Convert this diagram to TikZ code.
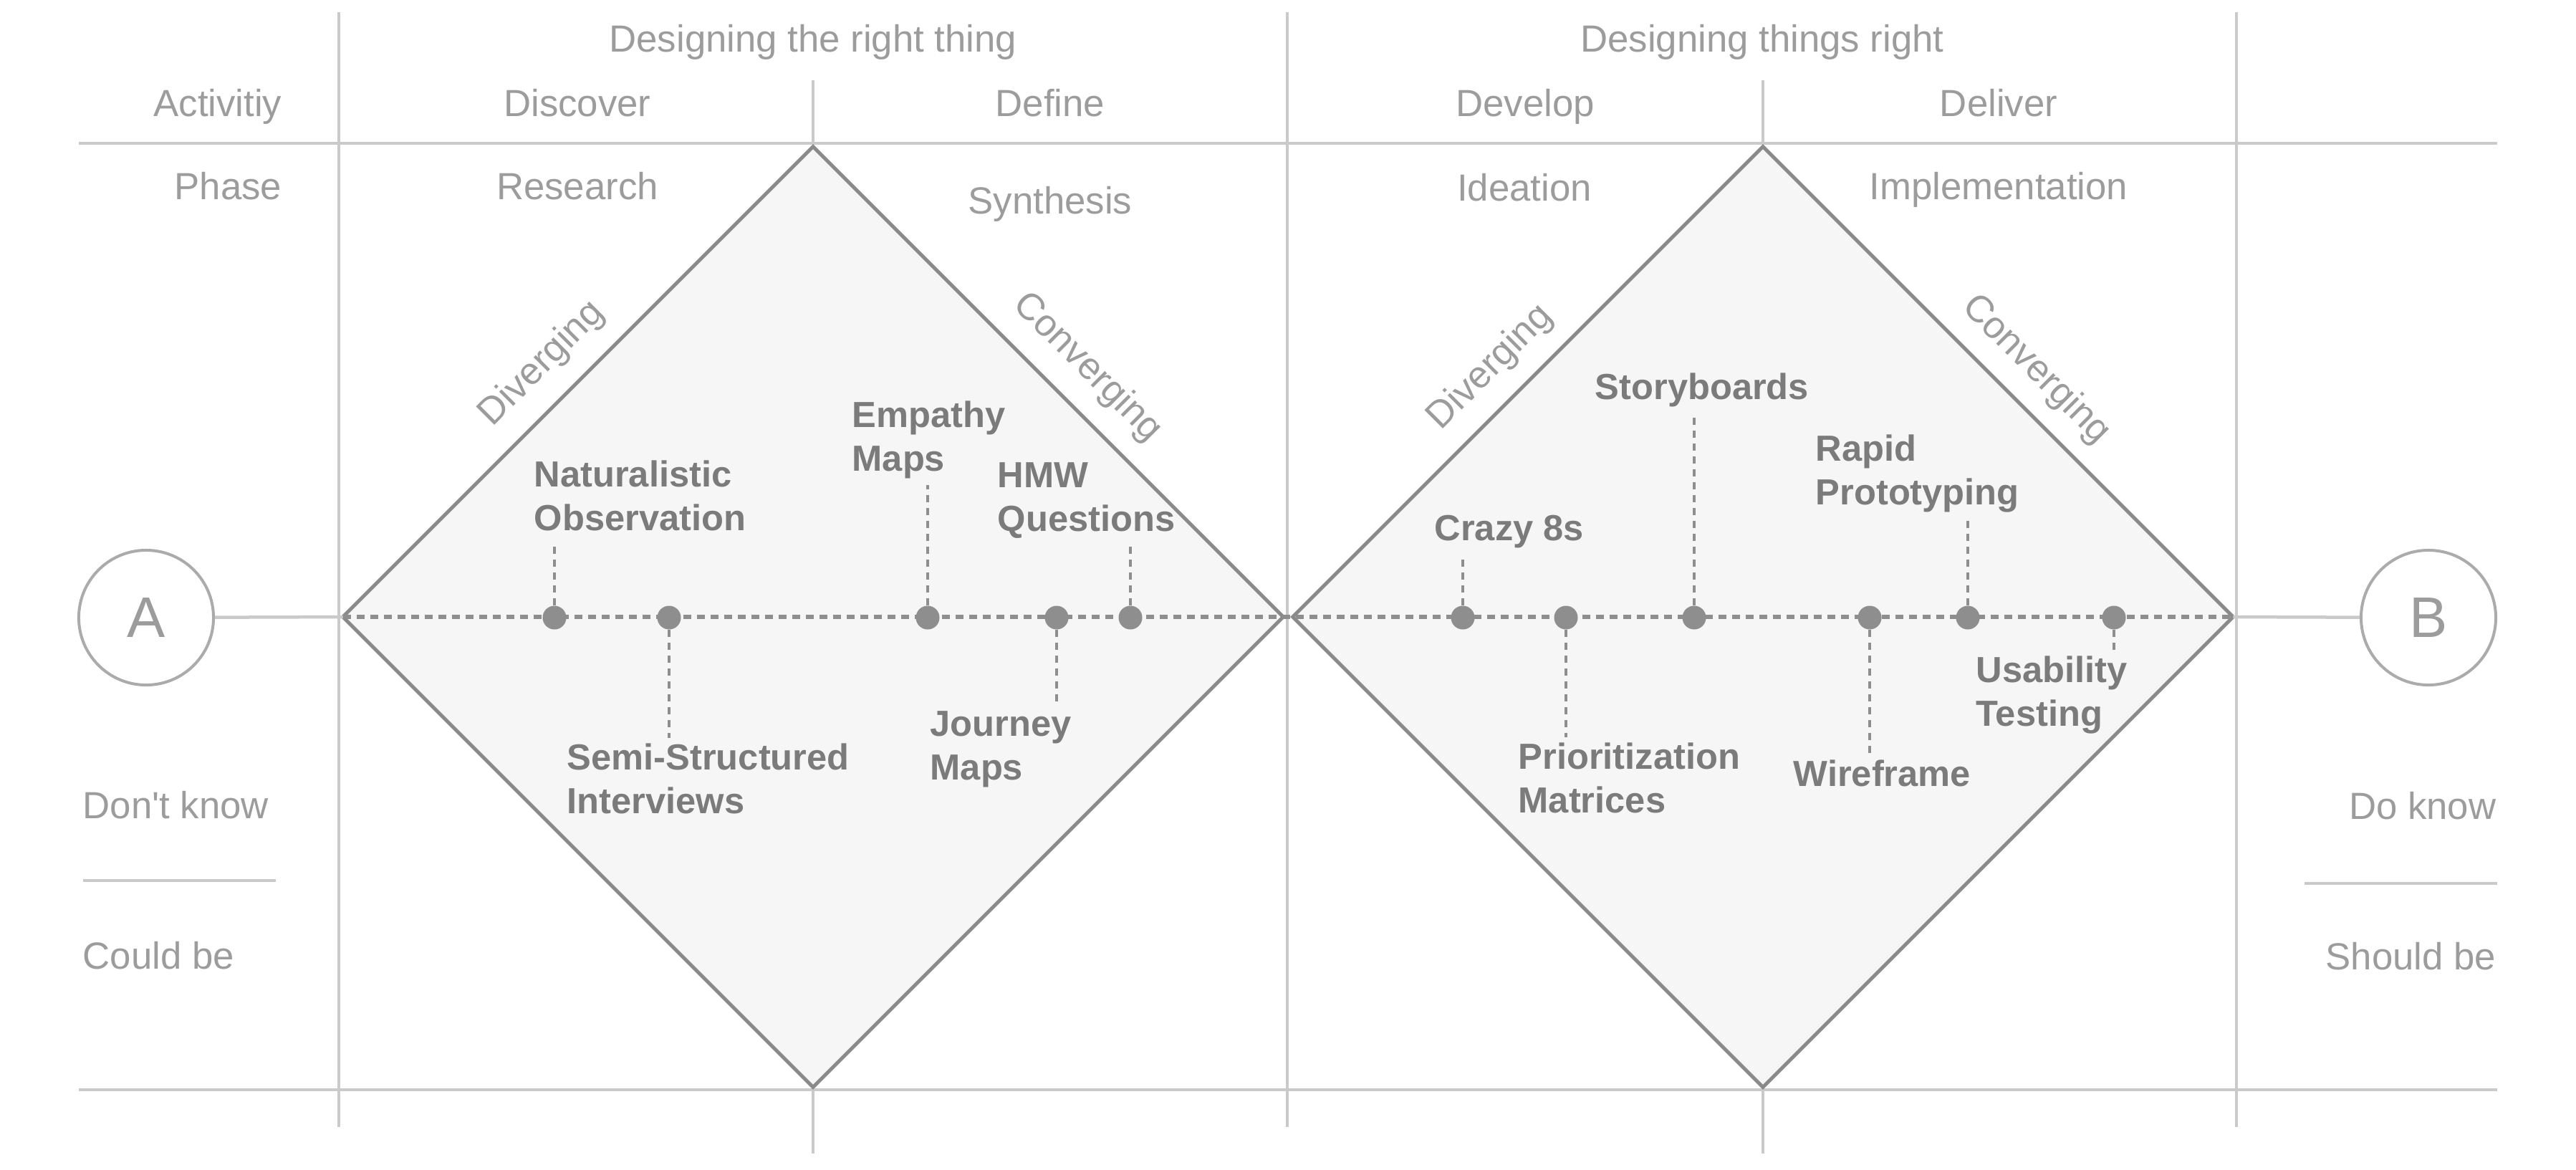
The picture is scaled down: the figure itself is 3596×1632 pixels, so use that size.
\documentclass[tikz,border=0pt]{standalone}
\usepackage{fontspec}
\setmainfont{Liberation Sans}
\usetikzlibrary{shapes.geometric}
\definecolor{gridc}{HTML}{CACACA}
\definecolor{diac}{HTML}{8A8A8A}
\definecolor{diafill}{HTML}{F6F6F6}
\definecolor{dotc}{HTML}{8E8E8E}
\definecolor{lblc}{HTML}{7B7B7B}
\definecolor{hdrc}{HTML}{9C9C9C}
\definecolor{circc}{HTML}{ABABAB}
\newcommand{\lbltxt}[1]{\begin{tabular}[t]{@{}l@{}}#1\end{tabular}}
\begin{document}
\begin{tikzpicture}[x=0.01cm,y=-0.01cm,
  gridline/.style={draw=gridc, line width=0.04cm},
  dia/.style={diamond, draw=diac, fill=diafill, line width=0.05cm, minimum width=13.12cm, minimum height=13.12cm, inner sep=0pt, outer sep=0pt, aspect=1},
  hdr/.style={text=hdrc, font=\fontsize{15}{18}\selectfont, inner sep=0pt},
  lbl/.style={text=lblc, font=\fontsize{14.4}{17.6}\selectfont\bfseries, inner sep=0pt, anchor=base west},
  dotn/.style={circle, fill=dotc, minimum size=0.33cm, inner sep=0pt},
  conn/.style={draw=dotc, line width=0.04cm, dash pattern=on 0.1cm off 0.08cm},
  dotline/.style={draw=dotc, line width=0.06cm, dash pattern=on 0.11cm off 0.08cm},
  linkc/.style={draw=gridc, line width=0.045cm},
  endc/.style={circle, draw=circc, line width=0.04cm, minimum size=1.88cm, inner sep=0pt, text=hdrc, font=\fontsize{22.7}{26}\selectfont}
]
\useasboundingbox (0,0) rectangle (3596,1632);
% grid
\draw[gridline] (110,200) -- (3486,200);
\draw[gridline] (110,1521) -- (3486,1521);
\foreach \x in {473,1797,3122} \draw[gridline] (\x,17) -- (\x,1573);
\foreach \x in {1135,2461} {\draw[gridline] (\x,112) -- (\x,200); \draw[gridline] (\x,1521) -- (\x,1610);}
\draw[gridline] (116,1229) -- (385,1229);
\draw[gridline] (3217,1233) -- (3486,1233);
% headers
\node[hdr, anchor=base] (h1) at (1135,72) {Designing the right thing};
\node[hdr, anchor=base] (h2) at (2460,72) {Designing things right};
\node[hdr, anchor=base east] (act) at (394,162) {Activitiy};
\node[hdr, anchor=base] (disc) at (806,162) {Discover};
\node[hdr, anchor=base] (defi) at (1466,162) {Define};
\node[hdr, anchor=base] (deve) at (2129,162) {Develop};
\node[hdr, anchor=base] (deli) at (2790,162) {Deliver};
\node[hdr, anchor=base east] (pha) at (394,278) {Phase};
\node[hdr, anchor=base] (rese) at (806,278) {Research};
\node[hdr, anchor=base] (synt) at (1466,298) {Synthesis};
\node[hdr, anchor=base] (idea) at (2128,280) {Ideation};
\node[hdr, anchor=base] (impl) at (2790,278) {Implementation};
\node[hdr, anchor=base west] (dk) at (115,1142) {Don\textquotesingle t know};
\node[hdr, anchor=base west] (cb) at (115,1352) {Could be};
\node[hdr, anchor=base east] (dok) at (3485,1143) {Do know};
\node[hdr, anchor=base east] (sb) at (3485,1353) {Should be};
% diamonds
\node[dia] (D1) at (1135,861) {};
\node[dia] (D2) at (2461,861) {};
\node[hdr, rotate=45] (div1) at (757,508) {Diverging};
\node[hdr, rotate=-45] (con1) at (1518,513) {Converging};
\node[hdr, rotate=45] (div2) at (2081,513) {Diverging};
\node[hdr, rotate=-45] (con2) at (2842,516) {Converging};
% end points
\node[endc] (A) at (204,862) {A};
\node[endc] (B) at (3390,862) {B};
\draw[linkc] (A) -- (D1.west);
\draw[linkc] (D2.east) -- (B);
\draw[dotline] (D1.west) -- (D2.east);
% dots
\node[dotn] (d1) at (774,862) {};
\node[dotn] (d2) at (934,862) {};
\node[dotn] (d3) at (1295,862) {};
\node[dotn] (d4) at (1475,862) {};
\node[dotn] (d5) at (1578,862) {};
\node[dotn] (d6) at (2042,862) {};
\node[dotn] (d7) at (2186,862) {};
\node[dotn] (d8) at (2365,862) {};
\node[dotn] (d9) at (2610,862) {};
\node[dotn] (d10) at (2747,862) {};
\node[dotn] (d11) at (2951,862) {};
% labels
\node[lbl] (L1) at (745,679) {\lbltxt{Naturalistic\\Observation}};
\node[lbl] (L2) at (791,1074) {\lbltxt{Semi-Structured\\Interviews}};
\node[lbl] (L3) at (1189,596) {\lbltxt{Empathy\\Maps}};
\node[lbl] (L4) at (1298,1027) {\lbltxt{Journey\\Maps}};
\node[lbl] (L5) at (1392,680) {\lbltxt{HMW\\Questions}};
\node[lbl] (L6) at (2002,754) {\lbltxt{Crazy 8s}};
\node[lbl] (L7) at (2119,1073) {\lbltxt{Prioritization\\Matrices}};
\node[lbl] (L8) at (2226,557) {\lbltxt{Storyboards}};
\node[lbl] (L9) at (2503,1097) {\lbltxt{Wireframe}};
\node[lbl] (L10) at (2534,643) {\lbltxt{Rapid\\Prototyping}};
\node[lbl] (L11) at (2758,952) {\lbltxt{Usability\\Testing}};
% connectors
\draw[conn] (d1.north) -- (d1.north |- L1.south);
\draw[conn] (d2.south) -- (d2.south |- L2.north);
\draw[conn] (d3.north) -- (d3.north |- L3.south);
\draw[conn] (d4.south) -- (d4.south |- L4.north);
\draw[conn] (d5.north) -- (d5.north |- L5.south);
\draw[conn] (d6.north) -- (d6.north |- L6.south);
\draw[conn] (d7.south) -- (d7.south |- L7.north);
\draw[conn] (d8.north) -- (d8.north |- L8.south);
\draw[conn] (d9.south) -- (d9.south |- L9.north);
\draw[conn] (d10.north) -- (d10.north |- L10.south);
\draw[conn] (d11.south) -- (d11.south |- L11.north);
\end{tikzpicture}
\end{document}
